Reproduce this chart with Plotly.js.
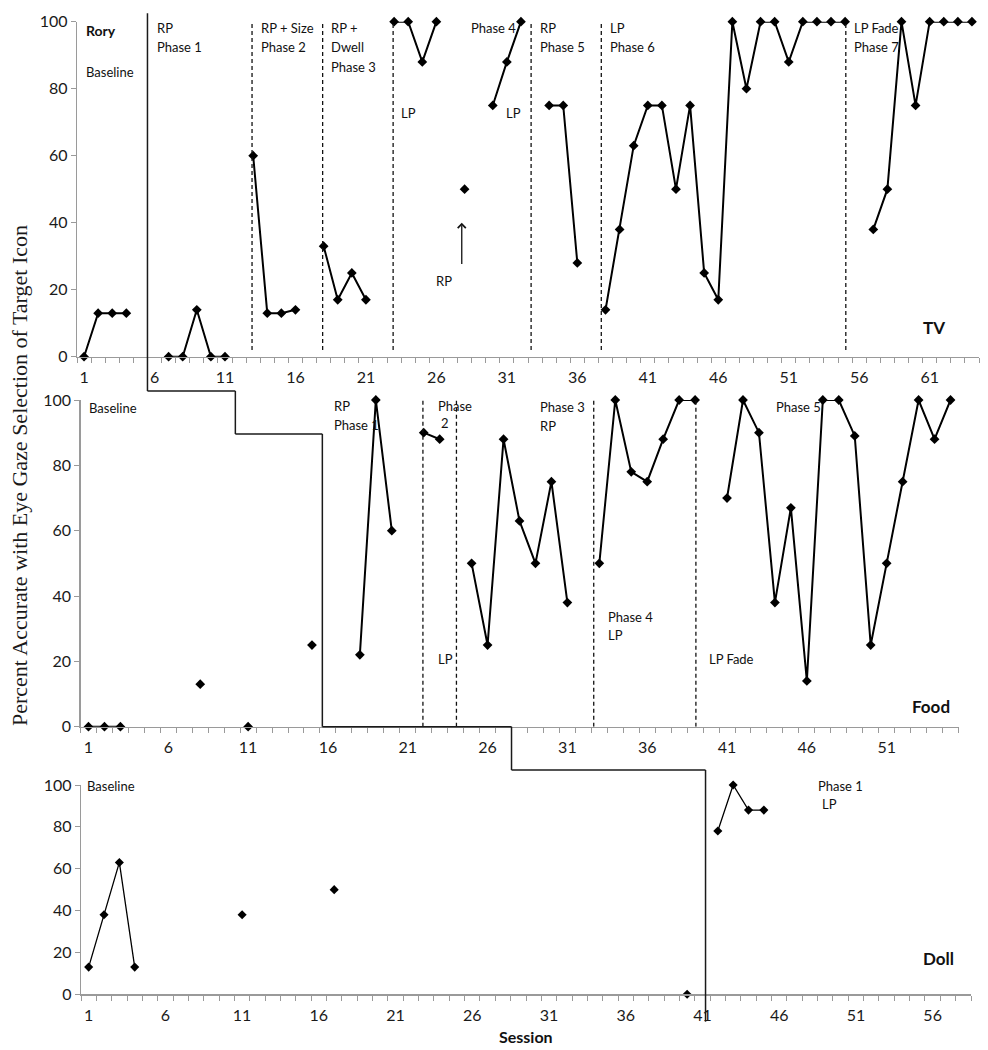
<!DOCTYPE html>
<html><head><meta charset="utf-8">
<script src="https://cdn.plot.ly/plotly-3.0.1.min.js"></script>
<style>html,body{margin:0;padding:0;background:#fff}#chart{width:988px;height:1050px}</style>
</head><body><div id="chart"></div>
<script>
// ---------------- DATA ----------------
const tvSessions = [1,2,3,4,5,6,7,8,9,10,11,12,13,14,15,16,17,18,19,20,21,22,23,24,25,26,27,28,29,30,31,32,33,34,35,36,37,38,39,40,41,42,43,44,45,46,47,48,49,50,51,52,53,54,55,56,57,58,59,60,61,62,63,64];
const tvValues   = [0,13,13,13,null,null,0,0,14,0,0,null,60,13,13,14,null,33,17,25,17,null,100,100,88,100,null,50,null,75,88,100,null,75,75,28,null,14,38,63,75,75,50,75,25,17,100,80,100,100,88,100,100,100,100,null,38,50,100,75,100,100,100,100];

const foodSessions = [1,2,3,4,5,6,7,8,9,10,11,12,13,14,15,16,17,18,19,20,21,22,23,24,25,26,27,28,29,30,31,32,33,34,35,36,37,38,39,40,41,42,43,44,45,46,47,48,49,50,51,52,53,54,55];
const foodValues   = [0,0,0,null,null,null,null,13,null,null,0,null,null,null,25,null,null,22,100,60,null,90,88,null,50,25,88,63,50,75,38,null,50,100,78,75,88,100,100,null,70,100,90,38,67,14,100,100,89,25,50,75,100,88,100];

const dollSessions = [1,2,3,4,5,6,7,8,9,10,11,12,13,14,15,16,17,18,19,20,21,22,23,24,25,26,27,28,29,30,31,32,33,34,35,36,37,38,39,40,41,42,43,44,45,46,47,48,49,50,51,52,53,54,55,56,57,58];
const dollValues   = [13,38,63,13,null,null,null,null,null,null,38,null,null,null,null,null,50,null,null,null,null,null,null,null,null,null,null,null,null,null,null,null,null,null,null,null,null,null,null,0,null,78,100,88,88,null,null,null,null,null,null,null,null,null,null,null,null,null];

const tvTickLabels   = [1,6,11,16,21,26,31,36,41,46,51,56,61];
const foodTickLabels = [1,6,11,16,21,26,31,36,41,46,51];
const dollTickLabels = [1,6,11,16,21,26,31,36,41,46,51,56];
const yTicks = [0,20,40,60,80,100];

// phase-change lines (session units)
const tvPhaseDashed   = [12.92,17.93,22.93,32.72,37.7,55.05];
const foodPhaseDashed = [21.95,24.05,32.65,39.05];
const tvBaselineEnd = 5.5, foodStep = 10.2, foodBaselineEnd = 15.65, dollStep = 27.5, dollBaselineEnd = 41.2;

// ---------------- LAYOUT GEOMETRY ----------------
const W = 988, H = 1050;
const P = {
  tv:   {x0:77, x1:979, r0:0.5, r1:64.5, yb:356.7, yt:21.7},
  food: {x0:80.5, x1:958.5, r0:0.5, r1:55.5, yb:726.7, yt:400},
  doll: {x0:81, x1:971, r0:0.5, r1:58.5, yb:994.3, yt:785}
};
const fx = p => p / W, fy = p => 1 - p / H;
const sx = (k, n) => fx(P[k].x0 + (n - P[k].r0) / (P[k].r1 - P[k].r0) * (P[k].x1 - P[k].x0));

const FONT = 'Lato, "Open Sans", sans-serif';
const GRAY = '#9a9a9a';

function xax(k, ticks){
  return {
    domain:[fx(P[k].x0), fx(P[k].x1)], range:[P[k].r0, P[k].r1],
    tickmode:'array', tickvals:ticks, ticktext:ticks.map(String),
    ticks:'outside', ticklen:6, tickcolor:'rgba(0,0,0,0)',
    minor:{tickmode:'linear', tick0:0.5, dtick:1, ticks:'outside', ticklen:5, tickcolor:GRAY, tickwidth:1, showgrid:false},
    showline:true, linecolor:GRAY, linewidth:1.3, showgrid:false, zeroline:false,
    tickfont:{family:FONT, size:16, color:'#1a1a1a'}, fixedrange:true
  };
}
function yax(k){
  return {
    domain:[fy(P[k].yb), fy(P[k].yt)], range:[0,100],
    tickmode:'array', tickvals:yTicks, ticks:'outside', ticklen:5, tickcolor:GRAY, tickwidth:1,
    showline:true, linecolor:GRAY, linewidth:1.3, showgrid:false, zeroline:false,
    tickfont:{family:FONT, size:16, color:'#1a1a1a'}, fixedrange:true
  };
}

const traces = [
  {x:tvSessions, y:tvValues, xaxis:'x', yaxis:'y', mode:'lines+markers', connectgaps:false, cliponaxis:false,
   line:{color:'#000', width:2}, marker:{symbol:'diamond', size:7.5, color:'#000'}, hoverinfo:'x+y'},
  {x:foodSessions, y:foodValues, xaxis:'x2', yaxis:'y2', mode:'lines+markers', connectgaps:false, cliponaxis:false,
   line:{color:'#000', width:2}, marker:{symbol:'diamond', size:7.5, color:'#000'}, hoverinfo:'x+y'},
  {x:dollSessions, y:dollValues, xaxis:'x3', yaxis:'y3', mode:'lines+markers', connectgaps:false, cliponaxis:false,
   line:{color:'#000', width:1.3}, marker:{symbol:'diamond', size:7, color:'#000'}, hoverinfo:'x+y'}
];

const shapes = [];
tvPhaseDashed.forEach(v => shapes.push({type:'line', xref:'x', yref:'y', x0:v, x1:v, y0:2, y1:102.5,
  line:{color:'#111', width:1.3, dash:'4px,3px'}}));
foodPhaseDashed.forEach(v => shapes.push({type:'line', xref:'x2', yref:'y2', x0:v, x1:v, y0:0, y1:102.5,
  line:{color:'#111', width:1.3, dash:'4px,3px'}}));

// multiple-baseline staircase
const ST = {top:13.3, s1:391, s2:434, s3:726.7, s4:770, bot:1021.7};
const stairs = [
  [sx('tv',tvBaselineEnd), ST.top, sx('tv',tvBaselineEnd), ST.s1],
  [sx('tv',tvBaselineEnd), ST.s1, sx('food',foodStep), ST.s1],
  [sx('food',foodStep), ST.s1, sx('food',foodStep), ST.s2],
  [sx('food',foodStep), ST.s2, sx('food',foodBaselineEnd), ST.s2],
  [sx('food',foodBaselineEnd), ST.s2, sx('food',foodBaselineEnd), ST.s3],
  [sx('food',foodBaselineEnd), ST.s3, sx('food',dollStep), ST.s3],
  [sx('food',dollStep), ST.s3, sx('food',dollStep), ST.s4],
  [sx('food',dollStep), ST.s4, sx('doll',dollBaselineEnd), ST.s4],
  [sx('doll',dollBaselineEnd), ST.s4, sx('doll',dollBaselineEnd), ST.bot]
];
stairs.forEach(s => shapes.push({type:'line', xref:'paper', yref:'paper',
  x0:s[0], y0:fy(s[1]), x1:s[2], y1:fy(s[3]), line:{color:'#1a1a1a', width:1.5}}));

function lab(text, ax, x, y, opts){
  opts = opts || {};
  return {text:text, xref:ax[0], yref:ax[1], x:x, y:y, xanchor:'left', yanchor:'middle', showarrow:false,
    font:{family:FONT, size:opts.size||13, color:'#111', weight:opts.bold?'bold':'normal'}, borderpad:0};
}
const TV = ['x','y'], FD = ['x2','y2'], DL = ['x3','y3'];
const annotations = [
  lab('Rory', TV, 1.1, 97.5, {bold:true, size:14}),
  lab('Baseline', TV, 1.1, 85.1),
  lab('RP', TV, 6.1, 98.0), lab('Phase 1', TV, 6.1, 92.4),
  lab('RP + Size', TV, 13.5, 98.0), lab('Phase 2', TV, 13.5, 92.4),
  lab('RP +', TV, 18.45, 98.0), lab('Dwell', TV, 18.45, 92.4), lab('Phase 3', TV, 18.45, 86.6),
  lab('LP', TV, 23.4, 72.8),
  lab('Phase 4', TV, 28.35, 98.0),
  lab('LP', TV, 30.85, 72.8),
  lab('RP', TV, 33.25, 98.0), lab('Phase 5', TV, 33.25, 92.4),
  lab('LP', TV, 38.25, 98.0), lab('Phase 6', TV, 38.25, 92.4),
  lab('LP Fade', TV, 55.55, 98.0), lab('Phase 7', TV, 55.55, 92.4),
  lab('RP', TV, 25.9, 22.7),
  lab('TV', TV, 60.45, 8.6, {bold:true, size:17}),
  {x:27.8, y:40, ax:27.8, ay:27.2, xref:'x', yref:'y', axref:'x', ayref:'y', text:'', showarrow:true,
   arrowhead:4, arrowsize:1.2, arrowwidth:1.3, arrowcolor:'#111'},

  lab('Baseline', FD, 1.0, 97.6),
  lab('RP', FD, 16.3, 98.2), lab('Phase 1', FD, 16.3, 92.3),
  lab('Phase', FD, 22.85, 98.2), lab('2', FD, 23.05, 92.9),
  lab('LP', FD, 22.85, 20.6),
  lab('Phase 3', FD, 29.2, 97.9), lab('RP', FD, 29.2, 92.1),
  lab('Phase 4', FD, 33.45, 33.7), lab('LP', FD, 33.45, 28.1),
  lab('LP Fade', FD, 39.8, 20.6),
  lab('Phase 5', FD, 44.0, 97.9),
  lab('Food', FD, 52.5, 6.1, {bold:true, size:17}),

  lab('Baseline', DL, 0.85, 99.5),
  lab('Phase 1', DL, 48.45, 99.5), lab('LP', DL, 48.75, 90.9),
  lab('Doll', DL, 55.3, 16.9, {bold:true, size:17}),

  {text:'Percent Accurate with Eye Gaze Selection of Target Icon', xref:'paper', yref:'paper',
   x:fx(19), y:fy(476), xanchor:'center', yanchor:'middle', textangle:-90, showarrow:false,
   font:{family:'"Liberation Serif", "Times New Roman", serif', size:22, color:'#1a1a1a'}},
  {text:'Session', xref:'paper', yref:'paper', x:fx(526), y:fy(1036.7), xanchor:'center', yanchor:'middle',
   showarrow:false, font:{family:FONT, size:16, color:'#111', weight:'bold'}}
];

const layout = {
  width:W, height:H, margin:{l:0, r:0, t:0, b:0}, paper_bgcolor:'#fff', plot_bgcolor:'rgba(0,0,0,0)',
  showlegend:false,
  xaxis: Object.assign(xax('tv', tvTickLabels), {anchor:'y'}),
  yaxis: Object.assign(yax('tv'), {anchor:'x'}),
  xaxis2: Object.assign(xax('food', foodTickLabels), {anchor:'y2'}),
  yaxis2: Object.assign(yax('food'), {anchor:'x2'}),
  xaxis3: Object.assign(xax('doll', dollTickLabels), {anchor:'y3'}),
  yaxis3: Object.assign(yax('doll'), {anchor:'x3'}),
  shapes:shapes, annotations:annotations
};

Plotly.newPlot('chart', traces, layout, {staticPlot:true, displayModeBar:false});
</script>
</body></html>
